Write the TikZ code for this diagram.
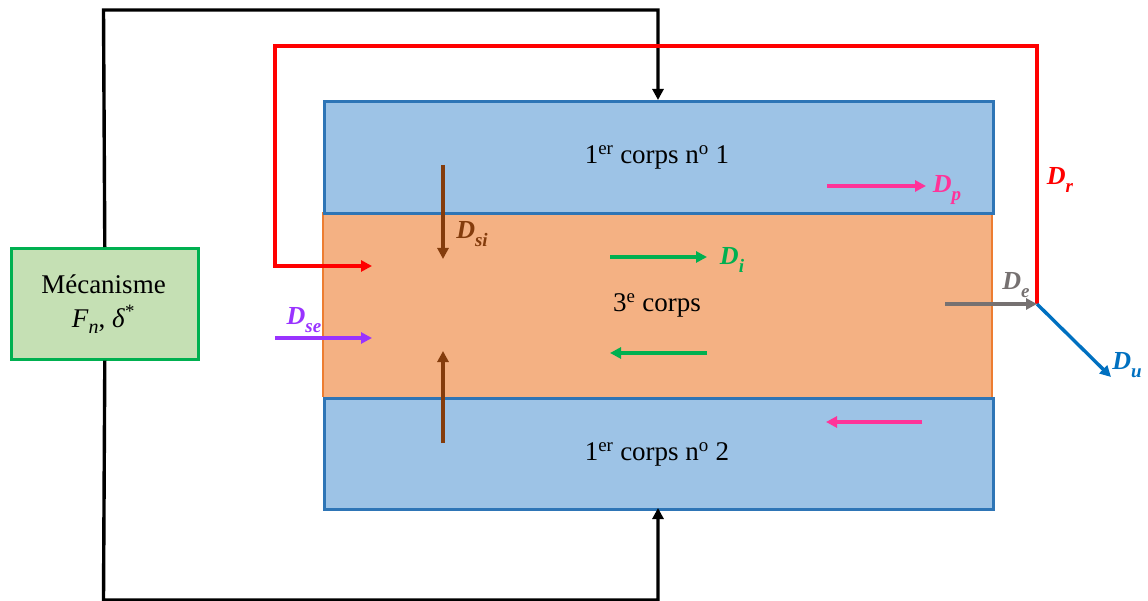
\documentclass[tikz,border=0pt]{standalone}
\usepackage{fontspec}
\setmainfont{Liberation Serif}
\usetikzlibrary{arrows.meta}
\definecolor{bluefill}{HTML}{9DC3E6}
\definecolor{blueline}{HTML}{2E75B6}
\definecolor{orangefill}{HTML}{F4B183}
\definecolor{orangeline}{HTML}{ED7D31}
\definecolor{greenfill}{HTML}{C5E0B4}
\definecolor{greenline}{HTML}{00B050}
\definecolor{pinkc}{HTML}{FF3399}
\definecolor{brownc}{HTML}{843C0C}
\definecolor{purplec}{HTML}{9933FF}
\definecolor{grayc}{HTML}{767171}
\definecolor{bluec}{HTML}{0070C0}
\newcommand{\fluxlbl}[1]{\textbf{\textit{D}}\raisebox{-0.3em}{\fontsize{19}{20}\selectfont\textbf{\textit{#1}}}}
\tikzset{
  arr/.style={line width=3.4pt,-{Triangle[length=11pt,width=11pt]}},
  lbl/.style={font=\fontsize{26}{30}\selectfont},
  txt/.style={font=\fontsize{27}{34}\selectfont, align=center}
}
\begin{document}
\begin{tikzpicture}[x=1pt,y=-1pt]
\useasboundingbox (0,0) rectangle (1148,601);
% middle (third body)
\fill[orangefill] (323,212) rectangle (992,397);
\draw[orangeline,line width=2.6pt] (323,212) -- (323,397) (992,212) -- (992,397);
% first bodies
\node[draw=blueline,fill=bluefill,line width=2.6pt,minimum width=669pt,minimum height=112pt,inner sep=0pt,anchor=north west] (b1) at (323,100) {};
\node[draw=blueline,fill=bluefill,line width=2.6pt,minimum width=669pt,minimum height=111pt,inner sep=0pt,anchor=north west] (b2) at (323,397) {};
\node[txt] (t1) at (657,157) {1\textsuperscript{er} corps n\textsuperscript{o} 1};
\node[txt] (t2) at (657,454) {1\textsuperscript{er} corps n\textsuperscript{o} 2};
\node[txt] (t3) at (657,305) {3\textsuperscript{e} corps};
% mechanism
\node[draw=greenline,fill=greenfill,line width=2.6pt,minimum width=187pt,minimum height=111pt,inner sep=0pt,anchor=north west] (mec) at (10,247) {};
\node[txt] (mect) at (103.5,304) {Mécanisme\\\textit{F}\raisebox{-0.25em}{\fontsize{20}{20}\selectfont\textit{n}}, \textit{δ}\textsuperscript{*}};
% black loops
\coordinate (bt) at (658,100);
\coordinate (bb) at (658,508);
\draw[arr,black] (mec.north) -- (103.5,10) -- (658,10) -- (bt);
\draw[arr,black] (mec.south) -- (103.5,600) -- (658,600) -- (bb);
% red loop
\coordinate (junc) at (1037,304);
\coordinate (rin) at (372,266);
\draw[arr,red] (junc) -- (1037,46) -- (275,46) -- (275,266) -- (rin);
\node[lbl,text=red] (Dr) at (1060,180) {\fluxlbl{r}};
% pink
\coordinate (p1a) at (827,186); \coordinate (p1b) at (926,186);
\draw[arr,pinkc] (p1a) -- (p1b);
\node[lbl,text=pinkc] (Dp) at (947,190) {\fluxlbl{p}};
\coordinate (p2a) at (922,422); \coordinate (p2b) at (826,422);
\draw[arr,pinkc] (p2a) -- (p2b);
% brown
\coordinate (s1a) at (443,165); \coordinate (s1b) at (443,259);
\draw[arr,brownc] (s1a) -- (s1b);
\node[lbl,text=brownc] (Dsi) at (472,234) {\fluxlbl{si}};
\coordinate (s2a) at (443,443); \coordinate (s2b) at (443,351);
\draw[arr,brownc] (s2a) -- (s2b);
% green
\coordinate (g1a) at (610,257); \coordinate (g1b) at (707,257);
\draw[arr,greenline] (g1a) -- (g1b);
\node[lbl,text=greenline] (Di) at (732,260) {\fluxlbl{i}};
\coordinate (g2a) at (707,353); \coordinate (g2b) at (610,353);
\draw[arr,greenline] (g2a) -- (g2b);
% purple
\coordinate (sea) at (275,338); \coordinate (seb) at (372,338);
\draw[arr,purplec] (sea) -- (seb);
\node[lbl,text=purplec] (Dse) at (304,320) {\fluxlbl{se}};
% gray
\coordinate (ea) at (945,304);
\draw[arr,grayc] (ea) -- (junc);
\node[lbl,text=grayc] (De) at (1016,285) {\fluxlbl{e}};
% blue
\coordinate (ue) at (1111,377);
\draw[arr,bluec] (junc) -- (ue);
\node[lbl,text=bluec] (Du) at (1127,365) {\fluxlbl{u}};
\end{tikzpicture}
\end{document}
